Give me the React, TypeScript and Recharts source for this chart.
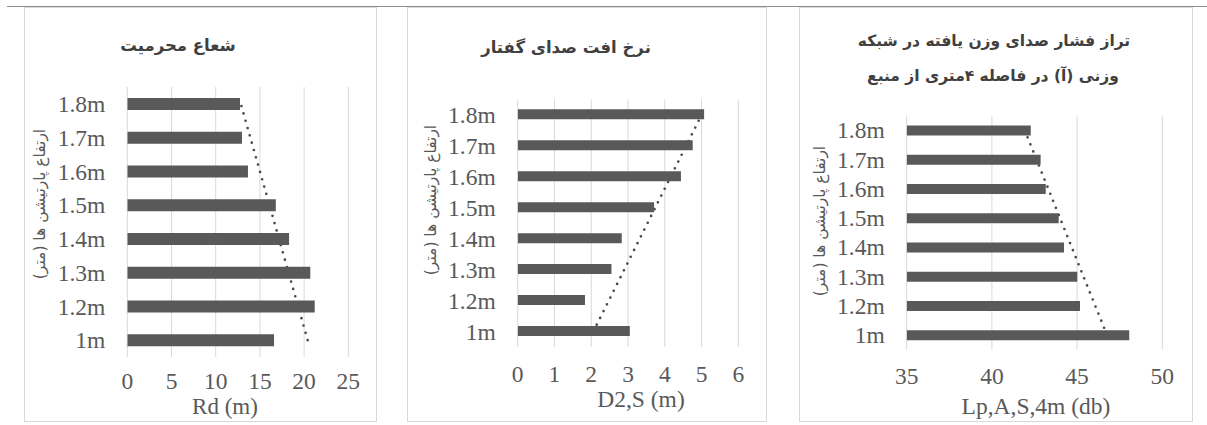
import React from 'react';
import { ComposedChart, Bar, Line, XAxis, YAxis, CartesianGrid } from 'recharts';

// ---- data ----
const categories = ['1m', '1.2m', '1.3m', '1.4m', '1.5m', '1.6m', '1.7m', '1.8m'];
const privacyRadius = [16.6, 21.2, 20.7, 18.3, 16.8, 13.65, 12.97, 12.75];
const speechDecay = [3.05, 1.83, 2.55, 2.83, 3.71, 4.44, 4.76, 5.07];
const soundLevel = [48.06, 45.17, 45.01, 44.23, 43.92, 43.16, 42.86, 42.28];

const ticksRd = [0, 5, 10, 15, 20, 25];
const ticksD2S = [0, 1, 2, 3, 4, 5, 6];
const ticksLp = [35, 40, 45, 50];

const titleRd = 'شعاع محرمیت';
const titleD2S = 'نرخ افت صدای گفتار';
const titleLp1 = 'تراز فشار صدای وزن یافته در شبکه';
const titleLp2 = 'وزنی (آ) در فاصله ۴متری از منبع';
const yTitle = 'ارتفاع پارتیشن ها (متر)';
const xTitleRd = 'Rd (m)';
const xTitleD2S = 'D2,S (m)';
const xTitleLp = 'Lp,A,S,4m (db)';

// linear (least squares) trendline, as Excel computes it
function linearTrend(values: number[]): number[] {
  const n = values.length;
  const xs = values.map((_, i) => i + 1);
  const mx = xs.reduce((a, b) => a + b, 0) / n;
  const my = values.reduce((a, b) => a + b, 0) / n;
  let sxy = 0;
  let sxx = 0;
  for (let i = 0; i < n; i++) {
    sxy += (xs[i] - mx) * (values[i] - my);
    sxx += (xs[i] - mx) * (xs[i] - mx);
  }
  const slope = sxy / sxx;
  return xs.map((x) => my + slope * (x - mx));
}

function buildData(values: number[]) {
  const trend = linearTrend(values);
  return categories.map((c, i) => ({ cat: c, value: values[i], trend: trend[i] }));
}

const GRAY = '#595959';
const SERIF = '"Liberation Serif", "Times New Roman", serif';
const PERSIAN = '"DejaVu Sans", sans-serif';

type PanelProps = {
  left: number;
  width: number;
  values: number[];
  domain: [number, number];
  ticks: number[];
  plotLeft: number;
  plotRight: number;
  plotTop: number;
  plotBottom: number;
  barSize: number;
  tickGap: number;
};

const TOP = 7;
const H = 415;

function Panel(p: PanelProps) {
  const data = buildData(p.values);
  const tickStyle = { fill: GRAY, fontSize: 23.5, fontFamily: SERIF };
  return (
    <div style={{ position: 'absolute', left: p.left, top: TOP, width: p.width, height: H }}>
      <ComposedChart
        layout="vertical"
        width={p.width}
        height={H}
        data={data}
        margin={{ top: p.plotTop, right: p.width - p.plotRight, bottom: 0, left: 0 }}
      >
        <CartesianGrid horizontal={false} stroke="#d9d9d9" strokeWidth={1} />
        <XAxis
          type="number"
          domain={p.domain}
          ticks={p.ticks}
          interval={0}
          allowDataOverflow
          axisLine={false}
          tickLine={false}
          tickSize={0}
          tickMargin={p.tickGap}
          height={H - p.plotBottom}
          tick={tickStyle}
        />
        <YAxis
          type="category"
          dataKey="cat"
          reversed
          interval={0}
          width={p.plotLeft}
          axisLine={false}
          tickLine={false}
          tickSize={0}
          tickMargin={22}
          tick={tickStyle}
        />
        <Line
          dataKey="trend"
          stroke="#4a4a4a"
          strokeWidth={2.7}
          strokeDasharray="0 7.6"
          strokeLinecap="round"
          dot={false}
          activeDot={false}
          isAnimationActive={false}
          zIndex={250}
        />
        <Bar dataKey="value" fill={GRAY} barSize={p.barSize} isAnimationActive={false} />
      </ComposedChart>
    </div>
  );
}

function Txt(props: { x: number; y: number; size: number; font: string; bold?: boolean; color?: string; rotate?: boolean; rtl?: boolean; lh?: number; children: React.ReactNode }) {
  return (
    <div
      style={{
        position: 'absolute',
        left: props.x,
        top: props.y,
        transform: `translate(-50%, -50%)${props.rotate ? ' rotate(-90deg)' : ''}`,
        whiteSpace: 'nowrap',
        fontSize: props.size,
        fontFamily: props.font,
        fontWeight: props.bold ? 700 : 400,
        color: props.color || GRAY,
        direction: props.rtl ? 'rtl' : 'ltr',
        lineHeight: props.lh ?? 1,
      }}
    >
      {props.children}
    </div>
  );
}

function Box(props: { left: number; right: number }) {
  return (
    <div
      style={{
        position: 'absolute',
        left: props.left,
        top: TOP,
        width: props.right - props.left,
        height: H,
        border: '1px solid #d9d9d9',
        boxSizing: 'border-box',
      }}
    />
  );
}

export default function App() {
  return (
    <div style={{ position: 'absolute', left: 0, top: 0, width: 1207, height: 425, background: '#fff', overflow: 'hidden' }}>
      <Box left={24} right={377} />
      <Box left={407} right={767} />
      <Box left={799} right={1193} />
      <div style={{ position: 'absolute', left: 7, top: 6, width: 1200, height: 1, background: '#8c8c8c' }} />

      <Panel left={24} width={352} values={privacyRadius} domain={[0, 25]} ticks={ticksRd}
        plotLeft={103.3} plotRight={324.3} plotTop={80} plotBottom={350} barSize={12} tickGap={15} />
      <Panel left={408} width={358} values={speechDecay} domain={[0, 6]} ticks={ticksD2S}
        plotLeft={109.7} plotRight={330.3} plotTop={92.3} plotBottom={340} barSize={10} tickGap={18} />
      <Panel left={799} width={393} values={soundLevel} domain={[35, 50]} ticks={ticksLp}
        plotLeft={107.7} plotRight={363.3} plotTop={108.5} plotBottom={342.4} barSize={10} tickGap={18} />

      <Txt x={178} y={46} size={16.5} font={PERSIAN} bold rtl color="#404040">{titleRd}</Txt>
      <Txt x={566} y={48} size={16.5} font={PERSIAN} bold rtl color="#404040">{titleD2S}</Txt>
      <Txt x={994} y={42} size={15.5} font={PERSIAN} bold rtl color="#404040">{titleLp1}</Txt>
      <Txt x={993} y={77} size={15.5} font={PERSIAN} bold rtl color="#404040">{titleLp2}</Txt>

      <Txt x={41} y={204} size={15.5} font={PERSIAN} rtl rotate>{yTitle}</Txt>
      <Txt x={432} y={200} size={15.5} font={PERSIAN} rtl rotate>{yTitle}</Txt>
      <Txt x={821} y={221} size={15.5} font={PERSIAN} rtl rotate>{yTitle}</Txt>

      <Txt x={225} y={407} size={23} font={SERIF} lh={0.72}>{xTitleRd}</Txt>
      <Txt x={641} y={399} size={23.5} font={SERIF} lh={0.72}>{xTitleD2S}</Txt>
      <Txt x={1036} y={406} size={23.5} font={SERIF} lh={0.72}>{xTitleLp}</Txt>
    </div>
  );
}
